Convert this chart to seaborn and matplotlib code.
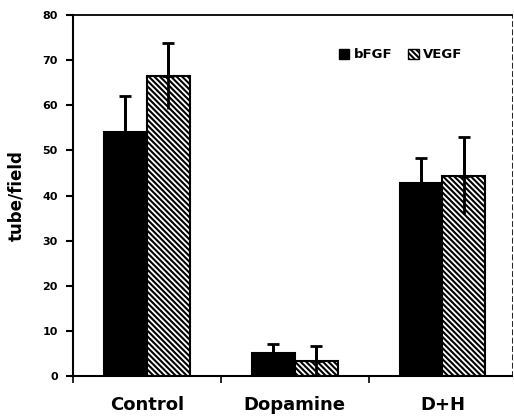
import matplotlib
matplotlib.use("Agg")
import matplotlib.pyplot as plt
from matplotlib.patches import Patch
import seaborn as sns
import pandas as pd
import numpy as np

# Tube formation per field under each treatment
groups = ["Control", "Dopamine", "D+H"]
factors = ["bFGF", "VEGF"]
bfgf_mean = [54.0, 5.1, 42.8]
bfgf_err = [8.0, 1.9, 5.5]
vegf_mean = [66.4, 3.4, 44.4]
vegf_err = [7.3, 3.2, 8.6]
y_ticks = [0, 10, 20, 30, 40, 50, 60, 70, 80]

df = pd.DataFrame({
    "group": groups * 2,
    "factor": [factors[0]] * 3 + [factors[1]] * 3,
    "value": bfgf_mean + vegf_mean,
})
errs = {factors[0]: bfgf_err, factors[1]: vegf_err}

sns.set_theme(style="ticks")
plt.rcParams["font.family"] = ["DejaVu Sans"]
plt.rcParams["hatch.linewidth"] = 1.5
for key in ["text.color", "axes.labelcolor", "xtick.color", "ytick.color",
            "axes.edgecolor"]:
    plt.rcParams[key] = "black"
HATCH = "\\\\\\\\\\\\"

fig = plt.figure(figsize=(5.14, 4.16), dpi=100)
ax = fig.add_axes([0.142, 0.096, 0.854, 0.868])

sns.barplot(data=df, x="group", y="value", hue="factor", order=groups,
            hue_order=factors, palette=["black", "white"], width=0.58,
            edgecolor="black", linewidth=1.5, errorbar=None, legend=False,
            saturation=1, ax=ax)

# Hatch the VEGF bars and add error bars
for container, fac in zip(ax.containers, factors):
    xs, ys = [], []
    for bar in container:
        if fac == "VEGF":
            bar.set_hatch(HATCH)
        xs.append(bar.get_x() + bar.get_width() / 2)
        ys.append(bar.get_height())
    e = np.array(errs[fac])
    ax.errorbar(xs, ys, yerr=e, fmt="none", ecolor="black",
                elinewidth=2, capsize=0, zorder=5)
    ax.errorbar(xs, ys, yerr=[np.zeros_like(e), e], fmt="none",
                ecolor="black", elinewidth=2, capsize=4, capthick=2, zorder=5)

ax.set_ylim(0, 80)
ax.set_xlim(-0.5, 2.47)
ax.set_yticks(y_ticks)
ax.set_yticklabels([str(t) for t in y_ticks], fontsize=8, fontweight="bold")
ax.set_xticks([-0.5, 0.5, 1.5])
ax.set_xticklabels([])
for i, g in enumerate(groups):
    ax.text(i, -0.08, g, ha="center", va="center", fontsize=13,
            fontweight="bold", transform=ax.get_xaxis_transform())
ax.set_xlabel("")
ax.set_ylabel("tube/field", fontsize=12, fontweight="bold", labelpad=12)

ax.tick_params(axis="y", direction="out", length=5, width=1.5, pad=6)
ax.tick_params(axis="x", direction="out", length=5, width=1.2)
for side in ["left", "bottom"]:
    ax.spines[side].set_linewidth(1.5)
ax.spines["top"].set_linewidth(1.3)
ax.spines["right"].set_linewidth(0.6)
ax.spines["right"].set_linestyle((0, (6, 4)))

handles = [Patch(facecolor="black", edgecolor="black"),
           Patch(facecolor="white", edgecolor="black", hatch=HATCH)]
ax.legend(handles, factors, loc="center right", bbox_to_anchor=(0.915, 0.89),
          ncol=2, frameon=False, handlelength=0.8, handleheight=0.8,
          handletextpad=0.35, columnspacing=1.2,
          prop={"weight": "bold", "size": 9.5})

fig.savefig("out.png", dpi=100)
